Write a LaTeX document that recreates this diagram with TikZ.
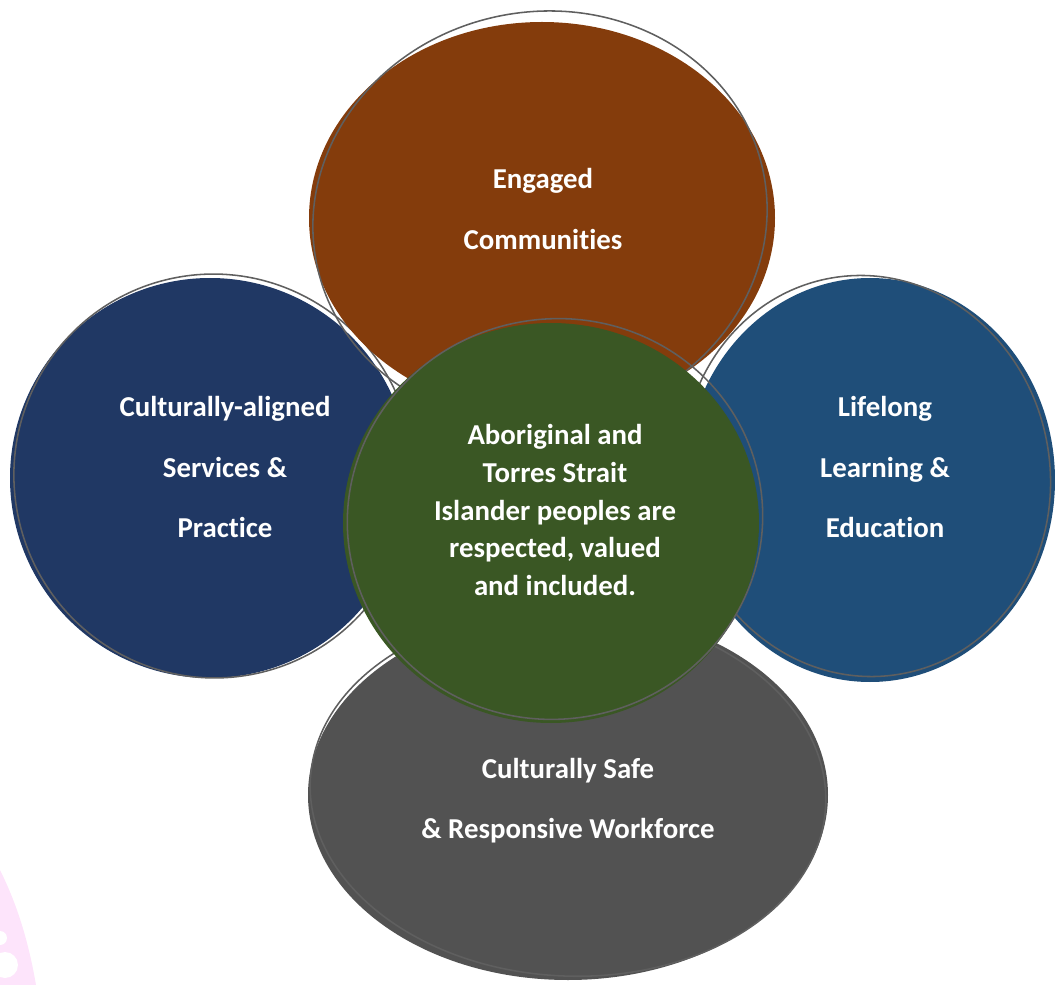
\documentclass[tikz,border=0pt]{standalone}
\usepackage{fontspec}
\setmainfont{Carlito}[Ligatures=NoCommon]
\definecolor{engbrown}{HTML}{843C0C}
\definecolor{servnavy}{HTML}{203864}
\definecolor{learnblue}{HTML}{1F4E79}
\definecolor{workgrey}{HTML}{525252}
\definecolor{centgreen}{HTML}{3A5724}
\definecolor{sketchline}{HTML}{5F5F5F}
\definecolor{petalpink}{HTML}{FDE4FB}

\begin{document}
\begin{tikzpicture}[x=0.025cm, y=-0.025cm,
    sketch/.style={draw=sketchline, line width=1.1pt},
    bloblabel/.style={text=white, font=\fontsize{20.5}{42.7}\selectfont\bfseries, align=center},
    midlabel/.style={text=white, font=\fontsize{20.5}{27}\selectfont\bfseries, align=center}]
    \useasboundingbox (0,0) rectangle (1055,985);

    % Pink corner shape
    \fill[petalpink] (0,870) .. controls (20,910) and (30,950) .. (36,985) -- (0,985) -- cycle;
    \fill[white] (0,938) circle [radius=7];
    \fill[white] (5,965) circle [radius=13];

    % Bottom blob
    \fill[workgrey] (568,795) ellipse [x radius=260, y radius=185];
    \draw[sketch, rotate around={-3:(568,793)}] (568,793) ellipse [x radius=258, y radius=183];

    % Left blob
    \fill[servnavy] (210,478) ellipse [x radius=200, y radius=200];
    \draw[sketch, rotate around={12:(214,476)}] (214,476) ellipse [x radius=200, y radius=202];

    % Right blob
    \fill[learnblue] (870,480) ellipse [x radius=185, y radius=202];
    \draw[sketch, rotate around={10:(866,476)}] (866,476) ellipse [x radius=184, y radius=201];

    % Top blob
    \fill[engbrown] (542,218) ellipse [x radius=233, y radius=196];
    \draw[sketch, rotate around={12:(540,218)}] (540,218) ellipse [x radius=228, y radius=206];

    % Centre blob
    \fill[centgreen] (551,523) ellipse [x radius=208, y radius=200];
    \draw[sketch, rotate around={12:(555,519)}] (555,519) ellipse [x radius=208, y radius=200];

    % Labels
    \node[bloblabel] (engaged) at (543,209) {Engaged\\Communities};
    \node[bloblabel] (services) at (225,467) {Culturally-aligned\\Services \&\\Practice};
    \node[bloblabel] (learning) at (885,467) {Lifelong\\Learning \&\\Education};
    \node[bloblabel] (workforce) at (568,801) {Culturally Safe\\\& Responsive Workforce};
    \node[midlabel] (peoples) at (555,510) {Aboriginal and\\Torres Strait\\Islander peoples are\\respected, valued\\and included.};
\end{tikzpicture}
\end{document}
